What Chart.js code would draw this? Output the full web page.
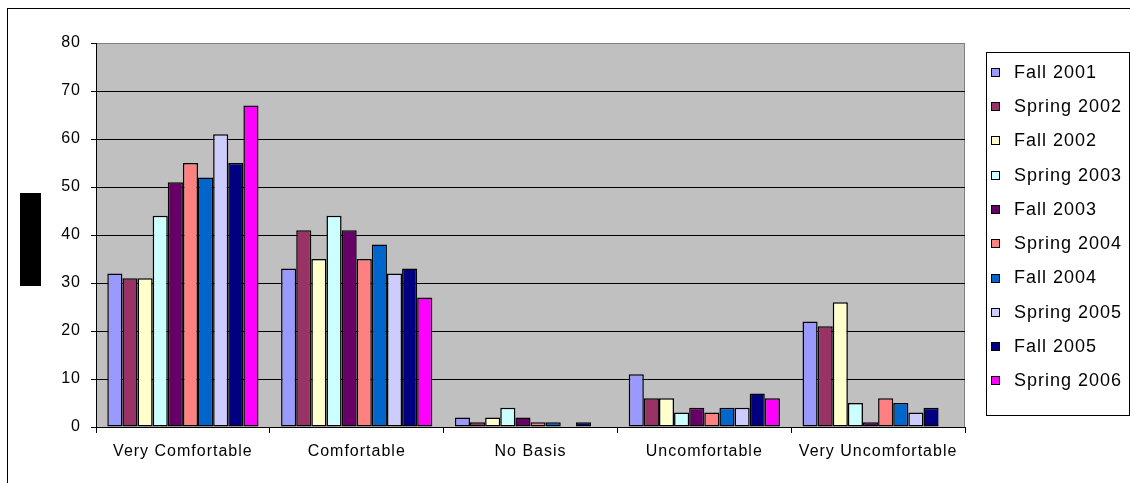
<!DOCTYPE html>
<html>
<head>
<meta charset="utf-8">
<script src="https://cdn.jsdelivr.net/npm/chart.js@4/dist/chart.umd.min.js"></script>
<style>
html,body{margin:0;padding:0;background:#fff;}
#wrap{width:1130px;height:483px;position:relative;}
</style>
</head>
<body>
<div id="wrap"><canvas id="c" width="1130" height="483"></canvas></div>
<script>
const categories = ['Very Comfortable', 'Comfortable', 'No Basis', 'Uncomfortable', 'Very Uncomfortable'];
const seriesNames = ['Fall 2001', 'Spring 2002', 'Fall 2002', 'Spring 2003', 'Fall 2003', 'Spring 2004', 'Fall 2004', 'Spring 2005', 'Fall 2005', 'Spring 2006'];
const fall2001   = [32, 33, 2, 11, 22];
const spring2002 = [31, 41, 1, 6, 21];
const fall2002   = [31, 35, 2, 6, 26];
const spring2003 = [44, 44, 4, 3, 5];
const fall2003   = [51, 41, 2, 4, 1];
const spring2004 = [55, 35, 1, 3, 6];
const fall2004   = [52, 38, 1, 4, 5];
const spring2005 = [61, 32, 0, 4, 3];
const fall2005   = [55, 33, 1, 7, 4];
const spring2006 = [67, 27, 0, 6, 0];
const yTicks = [0, 10, 20, 30, 40, 50, 60, 70, 80];
const colors = ['#9999FF', '#993366', '#FFFFCC', '#CCFFFF', '#660066', '#FF8080', '#0066CC', '#CCCCFF', '#000080', '#FF00FF'];

const seriesValues = [fall2001, spring2002, fall2002, spring2003, fall2003, spring2004, fall2004, spring2005, fall2005, spring2006];

const FONT = "'Liberation Sans', Arial, sans-serif";
Chart.defaults.font.family = FONT;
Chart.defaults.color = '#000';

const spacingPlugin = {
  id: 'spacing',
  beforeUpdate(chart) { chart.ctx.letterSpacing = '1px'; },
  beforeDraw(chart) {
    const ctx = chart.ctx;
    ctx.letterSpacing = '1px';
    const a = chart.chartArea;
    ctx.save();
    ctx.fillStyle = '#C0C0C0';
    ctx.fillRect(a.left, a.top, a.right - a.left, a.bottom - a.top);
    ctx.strokeStyle = '#808080';
    ctx.lineWidth = 1;
    ctx.beginPath();
    ctx.moveTo(a.left, a.top + 0.5);
    ctx.lineTo(a.right - 0.5, a.top + 0.5);
    ctx.lineTo(a.right - 0.5, a.bottom);
    ctx.stroke();
    // outer chart border
    ctx.strokeStyle = '#000';
    ctx.strokeRect(7.5, 8.5, 1140, 500);
    // y-axis title box (filled black)
    ctx.fillStyle = '#000';
    ctx.fillRect(20, 193, 21, 93);
    ctx.restore();
  },
  afterDraw(chart) {
    const ctx = chart.ctx;
    ctx.save();
    ctx.letterSpacing = '1px';
    // legend box
    const lx = 986, ly = 52, lw = 143, lh = 363;
    ctx.fillStyle = '#fff';
    ctx.fillRect(lx, ly, lw, lh);
    ctx.strokeStyle = '#000';
    ctx.lineWidth = 1;
    ctx.strokeRect(lx + 0.5, ly + 0.5, lw, lh);
    ctx.font = '18px ' + FONT;
    ctx.textBaseline = 'middle';
    ctx.textAlign = 'left';
    chart.data.datasets.forEach((ds, i) => {
      const cy = 71.7 + i * 34.3;
      ctx.fillStyle = ds.backgroundColor;
      ctx.fillRect(991, Math.round(cy - 4), 8, 8);
      ctx.strokeStyle = '#000';
      ctx.strokeRect(991.5, Math.round(cy - 4) + 0.5, 8, 8);
      ctx.fillStyle = '#000';
      ctx.fillText(ds.label, 1014, cy + 1);
    });
    ctx.restore();
  }
};

new Chart(document.getElementById('c'), {
  type: 'bar',
  data: {
    labels: categories,
    datasets: seriesNames.map((name, i) => ({
      label: name,
      data: seriesValues[i],
      backgroundColor: colors[i],
      borderColor: '#000',
      borderWidth: 1.5,
      borderSkipped: false,
      categoryPercentage: 0.87,
      barPercentage: 1.0
    }))
  },
  options: {
    responsive: false,
    animation: false,
    devicePixelRatio: 1,
    layout: { padding: { left: 0, top: 43, right: 165, bottom: 0 } },
    plugins: {
      legend: { display: false },
      tooltip: { enabled: false },
      title: { display: false }
    },
    scales: {
      x: {
        afterFit(s) { s.height = 56; },
        grid: {
          offset: true,
          drawOnChartArea: false,
          drawTicks: true,
          tickLength: 6,
          color: '#000'
        },
        border: { color: '#000', width: 1 },
        ticks: { font: { size: 16 }, color: '#000', padding: 9, maxRotation: 0 }
      },
      y: {
        min: 0,
        max: 80,
        afterFit(s) { s.width = 96; },
        afterBuildTicks(s) { s.ticks = yTicks.map(v => ({ value: v })); },
        grid: {
          color: ctx => (ctx.tick && ctx.tick.value === 80) ? '#808080' : '#000',
          tickColor: '#000',
          tickLength: 5,
          drawTicks: true
        },
        border: { color: '#000', width: 1 },
        ticks: { font: { size: 16 }, color: '#000', padding: 10, stepSize: 10 }
      }
    }
  },
  plugins: [spacingPlugin]
});
</script>
</body>
</html>
